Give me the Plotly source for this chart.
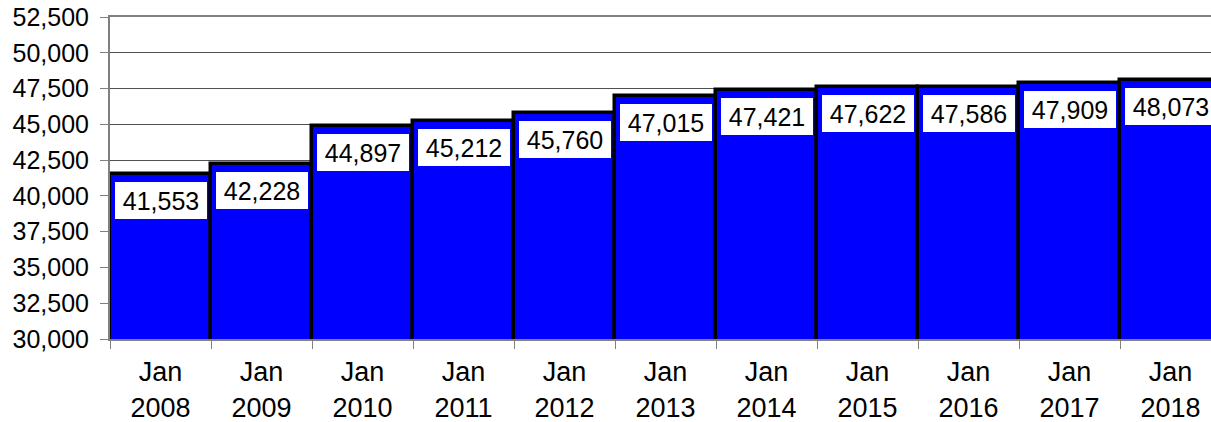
import plotly.graph_objects as go

years = ["2008", "2009", "2010", "2011", "2012", "2013", "2014", "2015", "2016", "2017", "2018"]
month = "Jan"
values = [41553, 42228, 44897, 45212, 45760, 47015, 47421, 47622, 47586, 47909, 48073]
y_ticks = list(range(30000, 52501, 2500))

categories = [f"{month}<br>{y}" for y in years]
FONT = "Liberation Sans, Arial, sans-serif"

fig = go.Figure(go.Bar(
    x=categories, y=values,
    marker=dict(color="#0000FF", line=dict(color="#000000", width=3.5)),
    hoverinfo="skip",
))

for c, v in zip(categories, values):
    fig.add_annotation(
        x=c, y=v, xref="x", yref="y", text=f"{v:,}", showarrow=False,
        yanchor="top", yshift=-8, width=92, height=37, bgcolor="#FFFFFF",
        borderpad=0, borderwidth=0, valign="middle", align="center",
        font=dict(family=FONT, size=25, color="#000000"),
    )

fig.update_layout(
    width=1211, height=422,
    margin=dict(l=110, r=0, t=17, b=83),
    paper_bgcolor="#FFFFFF", plot_bgcolor="#FFFFFF",
    bargap=0, showlegend=False,
    font=dict(family=FONT, color="#000000"),
)
fig.update_xaxes(
    type="category", range=[-0.5, 10.4], tickson="boundaries",
    ticks="outside", ticklen=8, tickcolor="#808080", tickwidth=1,
    showline=True, linecolor="#808080", linewidth=2, mirror=True,
    showgrid=False, ticklabelstandoff=8,
    tickfont=dict(size=27, family=FONT, color="#000000"),
)
fig.update_yaxes(
    range=[30000, 52500], tickvals=y_ticks,
    ticktext=[f"{t:,}" for t in y_ticks],
    ticks="outside", ticklen=8, tickcolor="#808080", tickwidth=1,
    showline=True, linecolor="#808080", linewidth=2,
    showgrid=True, gridcolor="#505050", gridwidth=1,
    zeroline=False, ticklabelstandoff=6,
    tickfont=dict(size=25, family=FONT, color="#000000"),
)

fig.write_html(
    "out.html",
    config={"displayModeBar": False},
    post_script="document.body.style.margin='0';document.body.style.overflow='hidden';",
)
